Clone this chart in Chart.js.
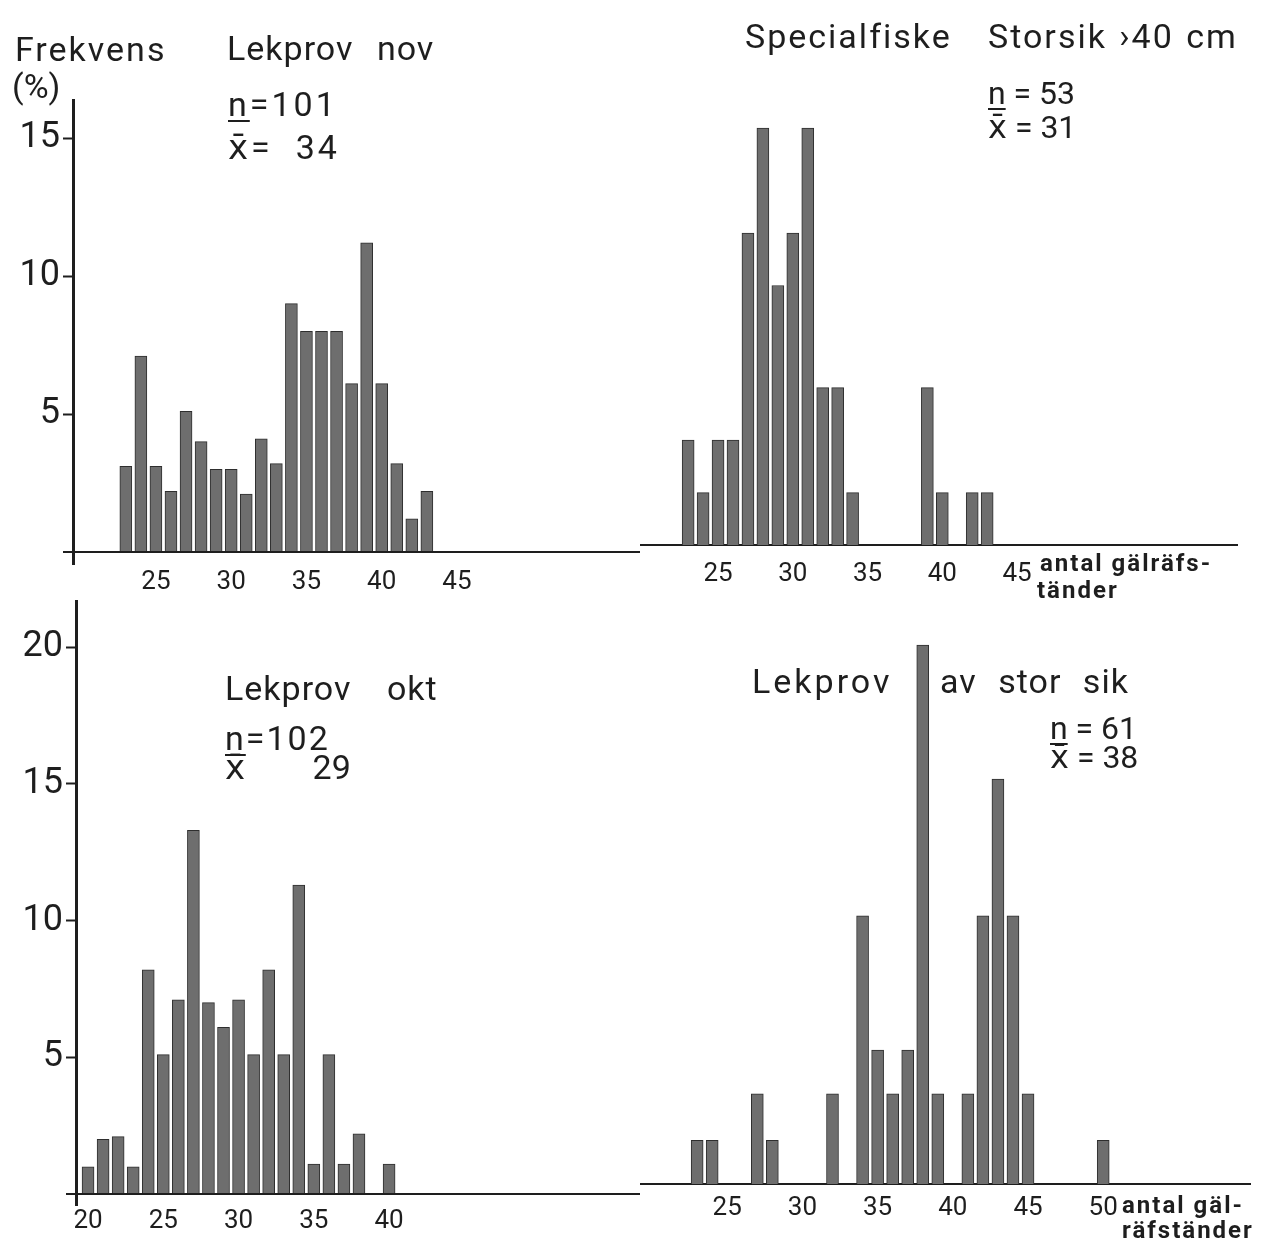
<!DOCTYPE html>
<html>
<head>
<meta charset="utf-8">
<script src="https://cdn.jsdelivr.net/npm/chart.js@4/dist/chart.umd.min.js"></script>
<style>
  html, body { margin: 0; padding: 0; background: #fff; }
  #wrap { position: relative; width: 1267px; height: 1253px; overflow: hidden; background: #fff;
          font-family: Roboto, "DejaVu Sans", sans-serif; color: #1e1e1e; }
  canvas { position: absolute; }
  .t { position: absolute; white-space: pre; line-height: 1; z-index: 2; }
  .ul { text-decoration: underline; text-decoration-thickness: 2px; text-underline-offset: 4px; }
  .ax { font-weight: bold; font-size: 24px; letter-spacing: 2px; }
</style>
</head>
<body>
<div id="wrap">
  <canvas id="tl" width="640" height="600" style="left:0;top:0"></canvas>
  <canvas id="tr" width="627" height="600" style="left:640px;top:0"></canvas>
  <canvas id="bl" width="640" height="653" style="left:0;top:600px"></canvas>
  <canvas id="br" width="627" height="653" style="left:640px;top:600px"></canvas>

  <div class="t" style="left:15px;top:32px;font-size:34px;letter-spacing:2px">Frekvens</div>
  <div class="t" style="left:12px;top:69px;font-size:34px">(%)</div>

  <div class="t" style="left:227px;top:31px;font-size:34px;letter-spacing:1px;word-spacing:14px">Lekprov nov</div>
  <div class="t" style="left:228px;top:87px;font-size:34px;letter-spacing:3px"><span class="ul">n</span>=101</div>
  <div class="t" style="left:228px;top:130px;font-size:34px;letter-spacing:3px">x̄=  34</div>

  <div class="t" style="left:745px;top:19px;font-size:34px;letter-spacing:2px">Specialfiske</div>
  <div class="t" style="left:988px;top:19px;font-size:34px;letter-spacing:2px;word-spacing:2px">Storsik ›40 cm</div>
  <div class="t" style="left:988px;top:77px;font-size:32px"><span class="ul">n</span> = 53</div>
  <div class="t" style="left:988px;top:111px;font-size:32px">x̄ = 31</div>
  <div class="t ax" style="left:1040px;top:551px">antal gälräfs-</div>
  <div class="t ax" style="left:1037px;top:578px">tänder</div>

  <div class="t" style="left:225px;top:671px;font-size:34px;letter-spacing:1px;word-spacing:26px">Lekprov okt</div>
  <div class="t" style="left:225px;top:721px;font-size:34px;letter-spacing:2px"><span class="ul">n</span>=102</div>
  <div class="t" style="left:225px;top:750px;font-size:34px">x̄        29</div>

  <div class="t" style="left:752px;top:664px;font-size:34px;letter-spacing:3px">Lekprov</div>
  <div class="t" style="left:940px;top:664px;font-size:34px;letter-spacing:1px;word-spacing:12px">av stor sik</div>
  <div class="t" style="left:1050px;top:712px;font-size:32px"><span class="ul">n</span> = 61</div>
  <div class="t" style="left:1050px;top:741px;font-size:32px">x̄ = 38</div>
  <div class="t ax" style="left:1122px;top:1193px">antal gäl-</div>
  <div class="t ax" style="left:1122px;top:1218px">räfständer</div>
</div>

<script>
// ---------------- data ----------------
// Lekprov nov (n = 101)
const topLeftX = [23, 24, 25, 26, 27, 28, 29, 30, 31, 32, 33, 34, 35, 36, 37, 38, 39, 40, 41, 42, 43];
const topLeftY = [3.1, 7.1, 3.1, 2.2, 5.1, 4.0, 3.0, 3.0, 2.1, 4.1, 3.2, 9.0, 8.0, 8.0, 8.0, 6.1, 11.2, 6.1, 3.2, 1.2, 2.2];
// Specialfiske Storsik >40 cm (n = 53)
const topRightX = [23, 24, 25, 26, 27, 28, 29, 30, 31, 32, 33, 34, 39, 40, 42, 43];
const topRightY = [3.8, 1.9, 3.8, 3.8, 11.3, 15.1, 9.4, 11.3, 15.1, 5.7, 5.7, 1.9, 5.7, 1.9, 1.9, 1.9];
// Lekprov okt (n = 102)
const botLeftX = [20, 21, 22, 23, 24, 25, 26, 27, 28, 29, 30, 31, 32, 33, 34, 35, 36, 37, 38, 40];
const botLeftY = [1.0, 2.0, 2.1, 1.0, 8.2, 5.1, 7.1, 13.3, 7.0, 6.1, 7.1, 5.1, 8.2, 5.1, 11.3, 1.1, 5.1, 1.1, 2.2, 1.1];
// Lekprov av stor sik (n = 61)
const botRightX = [23, 24, 27, 28, 32, 34, 35, 36, 37, 38, 39, 41, 42, 43, 44, 45, 50];
const botRightY = [1.6, 1.6, 3.3, 1.6, 3.3, 9.8, 4.9, 3.3, 4.9, 19.7, 3.3, 3.3, 9.8, 14.8, 9.8, 3.3, 1.6];

const yTicksTop = [5, 10, 15];
const yTicksBottom = [5, 10, 15, 20];
const xTicksTopLeft = [25, 30, 35, 40, 45];
const xTicksTopRight = [25, 30, 35, 40, 45];
const xTicksBottomLeft = [20, 25, 30, 35, 40];
const xTicksBottomRight = [25, 30, 35, 40, 45, 50];

// ---------------- styling ----------------
const INK = '#1e1e1e';
const BAR_FILL = '#6e6e6e';
const BAR_EDGE = '#2e2e2e';
Chart.defaults.font.family = 'Roboto';
Chart.defaults.color = INK;

function panel(id, xs, ys, o) {
  const yAxis = o.yShow ? {
    display: true,
    min: o.ymin, max: o.ymax,
    afterFit: s => { s.width = o.yw; s.paddingTop = 0; s.paddingBottom = 0; },
    afterBuildTicks: s => { s.ticks = [0].concat(o.yticks).map(v => ({ value: v })); },
    grid: {
      display: true,
      drawOnChartArea: true,
      drawTicks: true,
      tickLength: 10,
      tickWidth: 2,
      tickColor: INK,
      color: c => (c.tick && c.tick.value === 0) ? INK : 'rgba(0,0,0,0)',
      lineWidth: c => (c.tick && c.tick.value === 0) ? 2 : 1
    },
    border: { display: true, color: INK, width: 3 },
    ticks: {
      padding: 3, color: INK,
      font: { family: 'Roboto', size: 36 },
      callback: v => (v === 0 ? '' : String(v))
    }
  } : { display: false, min: o.ymin, max: o.ymax };

  return new Chart(document.getElementById(id), {
    type: 'bar',
    data: {
      datasets: [{
        data: xs.map((x, i) => ({ x: x, y: ys[i] })),
        backgroundColor: BAR_FILL,
        borderColor: BAR_EDGE,
        borderWidth: 1,
        barThickness: 12
      }]
    },
    options: {
      responsive: false,
      animation: false,
      events: [],
      layout: { padding: o.pad },
      plugins: { legend: { display: false }, tooltip: { enabled: false } },
      scales: {
        x: {
          type: 'linear',
          offset: false,
          min: o.xmin, max: o.xmax,
          afterFit: s => { s.height = o.xh; s.paddingLeft = 0; s.paddingRight = 0; },
          afterBuildTicks: s => { s.ticks = o.xticks.map(v => ({ value: v })); },
          grid: { display: false, drawTicks: false },
          border: { display: o.xBorder, color: INK, width: 2 },
          ticks: {
            padding: o.xpad, color: INK, maxRotation: 0, autoSkip: false,
            font: { family: 'Roboto', size: 26 },
            callback: v => String(v)
          }
        },
        y: yAxis
      }
    }
  });
}

// top-left: axis at x=73, zero at y=552, 27.6 px per %
panel('tl', topLeftX, topLeftY, {
  pad: { top: 100, left: 0, right: 0, bottom: 0 },
  yShow: true, yw: 73, ymin: -0.435, ymax: 16.38, yticks: yTicksTop,
  xmin: 19.49, xmax: 57.16, xticks: xTicksTopLeft, xh: 36, xpad: 3, xBorder: false
});
// top-right
panel('tr', topRightX, topRightY, {
  pad: { top: 100, left: 0, right: 30, bottom: 0 },
  yShow: false, ymin: 0, ymax: 16.12,
  xmin: 19.78, xmax: 59.71, xticks: xTicksTopRight, xh: 55, xpad: 14, xBorder: true
});
// bottom-left: axis at x=76, zero at y=1194, 27.35 px per %
panel('bl', botLeftX, botLeftY, {
  pad: { top: 0, left: 0, right: 0, bottom: 0 },
  yShow: true, yw: 76, ymin: -0.40, ymax: 21.72, yticks: yTicksBottom,
  xmin: 19.2, xmax: 56.67, xticks: xTicksBottomLeft, xh: 48, xpad: 1, xBorder: false
});
// bottom-right
panel('br', botRightX, botRightY, {
  pad: { top: 0, left: 0, right: 17, bottom: 0 },
  yShow: false, ymin: 0, ymax: 21.35,
  xmin: 19.2, xmax: 59.76, xticks: xTicksBottomRight, xh: 69, xpad: 9, xBorder: true
});
</script>
</body>
</html>
